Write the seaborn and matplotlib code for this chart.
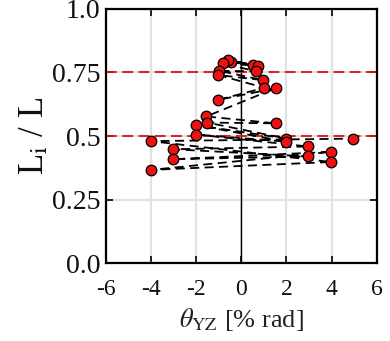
import matplotlib
matplotlib.use("Agg")
import matplotlib.pyplot as plt
import seaborn as sns
import pandas as pd

# rotation sequence (% rad) and normalised length, in loading order
theta_yz = [-0.45, 0.5, -0.6, 0.74, -0.8, 0.66, -1.0, 0.96, -1.03, 1.03,
            -1.03, 1.52, -1.55, 1.52, -1.5, 2.0, -2.0, 2.0, -2.0, 2.96,
            -3.0, 2.96, -3.0, 3.98, -4.0, 3.98, -4.0, 4.97]
li_over_l = [0.79, 0.78, 0.80, 0.776, 0.786, 0.754, 0.757, 0.72, 0.74, 0.69,
             0.642, 0.688, 0.577, 0.55, 0.553, 0.49, 0.543, 0.478, 0.506, 0.459,
             0.448, 0.42, 0.409, 0.438, 0.367, 0.398, 0.48, 0.49]
ref_levels = [0.5, 0.75, 1.0]
xticks = [-6, -4, -2, 0, 2, 4, 6]
xtick_labels = ["-6", "-4", "-2", "0", "2", "4", "6"]
yticks = [0.0, 0.25, 0.5, 0.75, 1.0]
ytick_labels = ["0.0", "0.25", "0.5", "0.75", "1.0"]

df = pd.DataFrame({"theta": theta_yz, "ratio": li_over_l})

sns.set_theme(style="white")
plt.rcParams['font.family'] = ['Liberation Serif', 'DejaVu Serif']
plt.rcParams['mathtext.fontset'] = 'stix'

fig = plt.figure(figsize=(3.9, 3.41), dpi=100)
ax = fig.add_axes([0.271, 0.228, 0.695, 0.746])

ax.set_xlim(-6, 6)
ax.set_ylim(0, 1.0)
ax.set_xticks(xticks)
ax.set_xticklabels(xtick_labels)
ax.set_yticks(yticks)
ax.set_yticklabels(ytick_labels)
ax.grid(True, color='#e2e2e2', linewidth=1.6, zorder=0)
ax.set_axisbelow(True)

ax.axvline(0, color='black', linewidth=1.0, zorder=1)
for lv in ref_levels:
    ax.axhline(lv, color='#dd1111', linestyle=(0, (6, 3)), linewidth=1.3, zorder=2)

sns.lineplot(data=df, x="theta", y="ratio", sort=False, estimator=None,
             color='black', linewidth=1.3, ax=ax, zorder=3)
ax.lines[-1].set_dashes((5, 3))
sns.scatterplot(data=df, x="theta", y="ratio", color='#ee1111', edgecolor='black',
                linewidth=0.9, s=58, ax=ax, zorder=4)

for sp in ax.spines.values():
    sp.set_color('black')
    sp.set_linewidth(1.6)
ax.tick_params(axis='both', which='both', direction='in', length=5, width=1.2,
               top=True, right=True, bottom=True, left=True, colors='black')
ax.tick_params(axis='x', labelsize=17, pad=11)
ax.tick_params(axis='y', labelsize=20, pad=4)
for lab in ax.get_xticklabels() + ax.get_yticklabels():
    lab.set_color('#111111')

ax.set_xlabel(r'$\theta_{\mathrm{YZ}}$ [% rad]', fontsize=19, color='#222222', labelpad=5)
ax.set_ylabel(r'L$_{\mathrm{i}}$ / L', fontsize=25, color='#111111', labelpad=0)

fig.savefig("out.png", dpi=100)
